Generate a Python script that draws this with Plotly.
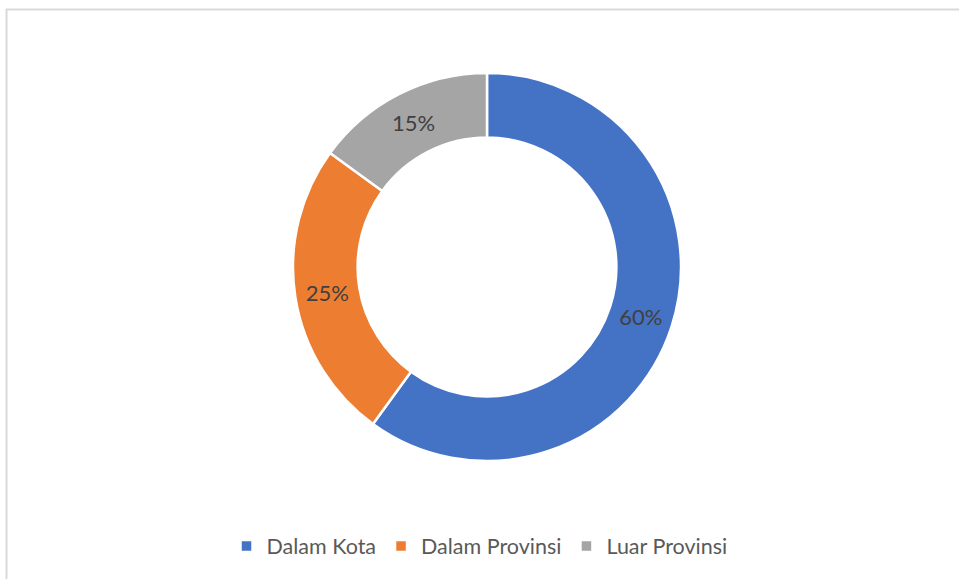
import plotly.graph_objects as go

labels = ["Dalam Kota", "Dalam Provinsi", "Luar Provinsi"]
values = [60, 25, 15]
colors = ["#4472C4", "#ED7D31", "#A5A5A5"]

W, H = 959, 579

fig = go.Figure(go.Pie(
    labels=labels,
    values=values,
    sort=False,
    direction="clockwise",
    rotation=0,
    hole=0.667,
    marker=dict(colors=colors, line=dict(color="white", width=2.5)),
    texttemplate="%{percent:.0%}",
    textposition="inside",
    insidetextorientation="horizontal",
    textfont=dict(family="Lato", size=22, color="#404040"),
    domain=dict(x=[293 / W, 681 / W], y=[(H - 461) / H, (H - 73) / H]),
    hoverinfo="label+percent",
))

fig.update_layout(
    width=W, height=H,
    margin=dict(l=0, r=0, t=0, b=0),
    paper_bgcolor="white",
    plot_bgcolor="white",
    showlegend=True,
    legend=dict(
        orientation="h",
        x=0.5, xanchor="center",
        y=(H - 546) / H, yanchor="middle",
        font=dict(family="Lato", size=21.5, color="#595959"),
        traceorder="normal",
    ),
    shapes=[
        dict(type="line", xref="paper", yref="paper",
             x0=6 / W, x1=1, y0=1 - 9.5 / H, y1=1 - 9.5 / H,
             line=dict(color="#D9D9D9", width=2)),
        dict(type="line", xref="paper", yref="paper",
             x0=6.5 / W, x1=6.5 / W, y0=0, y1=1 - 9 / H,
             line=dict(color="#D9D9D9", width=2)),
    ],
)

fig.write_html(
    "out.html",
    config={"displayModeBar": False},
    post_script="document.body.style.margin='0';document.body.style.overflow='hidden';",
)
